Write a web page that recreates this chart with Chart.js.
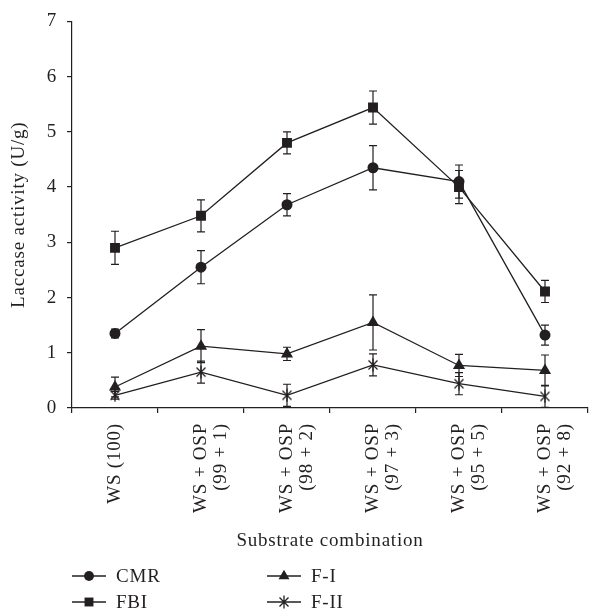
<!DOCTYPE html>
<html>
<head>
<meta charset="utf-8">
<script src="https://cdn.jsdelivr.net/npm/chart.js@4.4.0/dist/chart.umd.min.js"></script>
<style>
  html, body { margin: 0; padding: 0; background: #fff; }
</style>
</head>
<body>
<canvas id="laccaseChart" width="595" height="611"></canvas>
<script>
// substrate combinations (x axis)
const categories = [
  'WS (100)',
  ['WS + OSP', '(99 + 1)'],
  ['WS + OSP', '(98 + 2)'],
  ['WS + OSP', '(97 + 3)'],
  ['WS + OSP', '(95 + 5)'],
  ['WS + OSP', '(92 + 8)']
];

// laccase activity (U/g) and error bars per strain
const cmrValues = [1.35, 2.55, 3.68, 4.35, 4.10, 1.32];
const cmrErrors = [0.08, 0.30, 0.20, 0.40, 0.30, 0.18];
const fbiValues = [2.90, 3.48, 4.80, 5.44, 4.00, 2.11];
const fbiErrors = [0.30, 0.29, 0.20, 0.30, 0.30, 0.20];
const f1Values = [0.38, 1.12, 0.98, 1.55, 0.77, 0.68];
const f1Errors = [0.18, 0.30, 0.12, 0.50, 0.20, 0.28];
const f2Values = [0.23, 0.65, 0.23, 0.78, 0.44, 0.21];
const f2Errors = [0.07, 0.20, 0.20, 0.20, 0.20, 0.20];

const yTicks = [0, 1, 2, 3, 4, 5, 6, 7];

const ink = '#231f20';

// asterisk-like marker (X with a vertical stroke) for F-II
const starMark = document.createElement('canvas');
starMark.width = 14;
starMark.height = 14;
(function () {
  const c = starMark.getContext('2d');
  c.strokeStyle = ink;
  c.lineWidth = 1.3;
  c.beginPath();
  c.moveTo(2.5, 2.5); c.lineTo(11.5, 11.5);
  c.moveTo(11.5, 2.5); c.lineTo(2.5, 11.5);
  c.moveTo(7, 0.5); c.lineTo(7, 13.5);
  c.stroke();
})();

Chart.defaults.font.family = '"Liberation Serif", "Times New Roman", serif';
Chart.defaults.font.size = 19;
Chart.defaults.color = ink;

function series(label, values, errors, style, radius) {
  return {
    label: label,
    data: values,
    errors: errors,
    borderColor: ink,
    backgroundColor: ink,
    borderWidth: 1.3,
    pointStyle: style,
    pointRadius: radius,
    pointBorderWidth: 0,
    tension: 0,
    fill: false
  };
}

// a little wider letter spacing, the original face runs wider than Times
const spacing = {
  id: 'spacing',
  beforeUpdate(chart) { chart.ctx.letterSpacing = '0.8px'; },
  beforeDraw(chart) { chart.ctx.letterSpacing = '0.8px'; }
};

const errorBars = {
  id: 'errorBars',
  beforeDatasetsDraw(chart) {
    const ctx = chart.ctx;
    const y = chart.scales.y;
    ctx.save();
    ctx.strokeStyle = ink;
    ctx.lineWidth = 1.2;
    chart.data.datasets.forEach((ds, i) => {
      const meta = chart.getDatasetMeta(i);
      meta.data.forEach((pt, j) => {
        const v = ds.data[j];
        const e = ds.errors[j];
        const top = y.getPixelForValue(v + e);
        const bot = y.getPixelForValue(v - e);
        ctx.beginPath();
        ctx.moveTo(pt.x, top); ctx.lineTo(pt.x, bot);
        ctx.moveTo(pt.x - 4, top); ctx.lineTo(pt.x + 4, top);
        ctx.moveTo(pt.x - 4, bot); ctx.lineTo(pt.x + 4, bot);
        ctx.stroke();
      });
    });
    ctx.restore();
  }
};

// two column legend under the axis title
const legendGrid = {
  id: 'legendGrid',
  afterDraw(chart) {
    const ctx = chart.ctx;
    const spots = [[72, 576], [72, 602], [267, 576], [267, 602]];
    ctx.save();
    ctx.font = '19px "Liberation Serif", serif';
    ctx.textBaseline = 'middle';
    ctx.textAlign = 'left';
    chart.data.datasets.forEach((ds, i) => {
      const [x, y] = spots[i];
      ctx.strokeStyle = ink;
      ctx.fillStyle = ink;
      ctx.lineWidth = 1.3;
      ctx.beginPath();
      ctx.moveTo(x, y); ctx.lineTo(x + 34, y);
      ctx.stroke();
      Chart.helpers.drawPoint(ctx, {
        pointStyle: ds.pointStyle, radius: ds.pointRadius * 0.9, rotation: 0, borderWidth: 0
      }, x + 17, y);
      ctx.fillText(ds.label, x + 44, y + 1);
    });
    ctx.restore();
  }
};

new Chart(document.getElementById('laccaseChart'), {
  type: 'line',
  data: {
    labels: categories,
    datasets: [
      series('CMR', cmrValues, cmrErrors, 'circle', 5.5),
      series('FBI', fbiValues, fbiErrors, 'rect', 7),
      series('F-I', f1Values, f1Errors, 'triangle', 7),
      series('F-II', f2Values, f2Errors, starMark, 7)
    ]
  },
  options: {
    responsive: false,
    animation: false,
    events: [],
    layout: { padding: { top: 19, right: 0, bottom: 59, left: 0 } },
    plugins: {
      legend: { display: false },
      tooltip: { enabled: false }
    },
    scales: {
      x: {
        offset: true,
        grid: { offset: true, drawOnChartArea: false, tickLength: 5, color: ink, lineWidth: 1.2 },
        border: { color: ink, width: 1.2 },
        ticks: {
          autoSkip: false, minRotation: 90, maxRotation: 90, padding: 10,
          color: ink, font: { size: 19, lineHeight: 1.05 }
        },
        title: {
          display: true, text: 'Substrate combination', color: ink,
          font: { size: 19 }, padding: { top: 0, bottom: 0 }
        },
        afterFit(scale) {
          scale.height = 144;
          scale.paddingLeft = 0;
          scale.paddingRight = 0;
        }
      },
      y: {
        min: 0,
        max: 7,
        afterBuildTicks(scale) { scale.ticks = yTicks.map(v => ({ value: v })); },
        grid: { drawOnChartArea: false, tickLength: 5, color: ink, lineWidth: 1.2 },
        border: { color: ink, width: 1.2 },
        ticks: { padding: 10, color: ink, font: { size: 19 } },
        title: {
          display: true, text: 'Laccase activity (U/g)', color: ink,
          font: { size: 19 }, padding: { top: 8, bottom: 0 }
        },
        afterFit(scale) { scale.width = 72; }
      }
    }
  },
  plugins: [spacing, errorBars, legendGrid]
});
</script>
</body>
</html>
